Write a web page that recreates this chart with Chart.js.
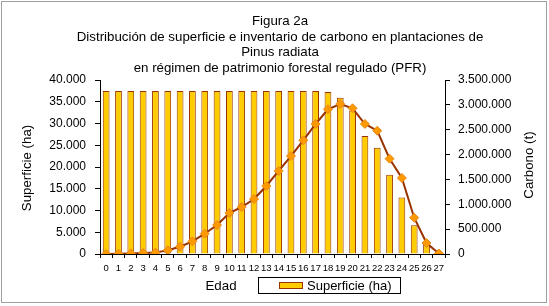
<!DOCTYPE html>
<html>
<head>
<meta charset="utf-8">
<script src="https://cdn.jsdelivr.net/npm/chart.js@4.4.1/dist/chart.umd.min.js"></script>
<style>
  html, body { margin: 0; padding: 0; background: #fff; }
  #wrap { width: 549px; height: 306px; position: relative; }
</style>
</head>
<body>
<div id="wrap"><canvas id="c" width="549" height="306"></canvas></div>
<script>
// ---- Data ----
const titleLines = [
  "Figura 2a",
  "Distribución de superficie e inventario de carbono en plantaciones de",
  "Pinus radiata",
  "en régimen de patrimonio forestal regulado (PFR)"
];
const edades = ["0","1","2","3","4","5","6","7","8","9","10","11","12","13","14","15","16","17","18","19","20","21","22","23","24","25","26","27"];
const superficie = [37500,37500,37500,37500,37500,37500,37500,37500,37500,37500,37500,37500,37500,37500,37500,37500,37500,37500,37250,35900,33000,27150,24450,18200,13000,6600,2400,0];
const carbono = [0,5000,12000,20000,28000,75000,147000,255000,408000,583000,825000,945000,1106000,1368000,1670000,1971000,2287000,2615000,2911000,3017000,2931000,2615000,2480000,1917000,1529000,730000,221000,10000];
const xTitle = "Edad";
const yLeftTitle = "Superficie (ha)";
const yRightTitle = "Carbono (t)";
const supLabel = "Superficie (ha)";
const carbLabel = "Carbono (t)";

const FONT = "Arial, 'Liberation Sans', sans-serif";
const fmt = v => String(v).replace(/\B(?=(\d{3})+(?!\d))/g, ".");

const decorPlugin = {
  id: "decor",
  afterDraw(chart) {
    const ctx = chart.ctx;
    ctx.save();
    // outer border
    ctx.strokeStyle = "#a0a0a0";
    ctx.lineWidth = 1;
    ctx.strokeRect(1.5, 1.5, 545, 301);
    // title
    ctx.fillStyle = "#000";
    ctx.font = "13.3px " + FONT;
    ctx.textAlign = "center";
    ctx.textBaseline = "middle";
    const ys = [21.5, 37, 52.5, 68];
    titleLines.forEach((t, i) => ctx.fillText(t, 280, ys[i]));
    // x axis title
    ctx.fillText(xTitle, 221, 286);
    // y titles (both rotated bottom-to-top)
    ctx.save();
    ctx.translate(27, 168);
    ctx.rotate(-Math.PI / 2);
    ctx.fillText(yLeftTitle, 0, 0);
    ctx.restore();
    ctx.save();
    ctx.translate(529, 165);
    ctx.rotate(-Math.PI / 2);
    ctx.fillText(yRightTitle, 0, 0);
    ctx.restore();
    // legend (bar dataset only)
    const ds = chart.data.datasets.find(d => d.type === "bar");
    ctx.strokeStyle = "#000";
    ctx.strokeRect(258.5, 277.5, 142, 16);
    ctx.fillStyle = ds.backgroundColor;
    ctx.fillRect(279, 282, 24, 7);
    ctx.strokeStyle = ds.borderColor;
    ctx.strokeRect(279.5, 282.5, 23, 6);
    ctx.fillStyle = "#000";
    ctx.textAlign = "left";
    ctx.font = "13px " + FONT;
    ctx.fillText(ds.label, 307, 286.5);
    ctx.restore();
  }
};

new Chart(document.getElementById("c"), {
  data: {
    labels: edades,
    datasets: [
      {
        type: "line",
        label: carbLabel,
        data: carbono,
        yAxisID: "y1",
        borderColor: "#993300",
        borderWidth: 2,
        pointStyle: "rectRot",
        pointRadius: 4.5,
        pointBackgroundColor: "#FF9900",
        pointBorderColor: "#E8891A",
        pointBorderWidth: 1,
        tension: 0,
        order: 0
      },
      {
        type: "bar",
        label: supLabel,
        data: superficie,
        yAxisID: "y",
        backgroundColor: "#FFCC00",
        borderColor: "#993300",
        borderWidth: 1,
        barPercentage: 0.55,
        categoryPercentage: 1,
        order: 1
      }
    ]
  },
  options: {
    responsive: false,
    animation: false,
    layout: { padding: { top: 80, left: 0, right: 0, bottom: 0 } },
    plugins: {
      legend: { display: false },
      title: { display: false },
      tooltip: { enabled: false }
    },
    scales: {
      x: {
        type: "category",
        grid: { offset: true, drawOnChartArea: false, color: "#000", tickLength: 4 },
        border: { color: "#000", width: 1 },
        ticks: { color: "#000", font: { size: 9.5, family: FONT }, padding: 5, maxRotation: 0, autoSkip: false },
        afterFit(s) { s.height = 52; }
      },
      y: {
        position: "left",
        min: 0, max: 40000,
        grid: { drawOnChartArea: false, color: "#000", tickLength: 5 },
        border: { color: "#000", width: 1 },
        ticks: { stepSize: 5000, color: "#000", font: { size: 12, family: FONT }, padding: 9, callback: v => fmt(v) },
        afterFit(s) { s.width = 100; }
      },
      y1: {
        position: "right",
        min: 0, max: 3500000,
        grid: { drawOnChartArea: false, color: "#000", tickLength: 5 },
        border: { color: "#000", width: 1 },
        ticks: { stepSize: 500000, color: "#000", font: { size: 12, family: FONT }, padding: 8, callback: v => fmt(v) },
        afterFit(s) { s.width = 104; }
      }
    }
  },
  plugins: [decorPlugin]
});
</script>
</body>
</html>
